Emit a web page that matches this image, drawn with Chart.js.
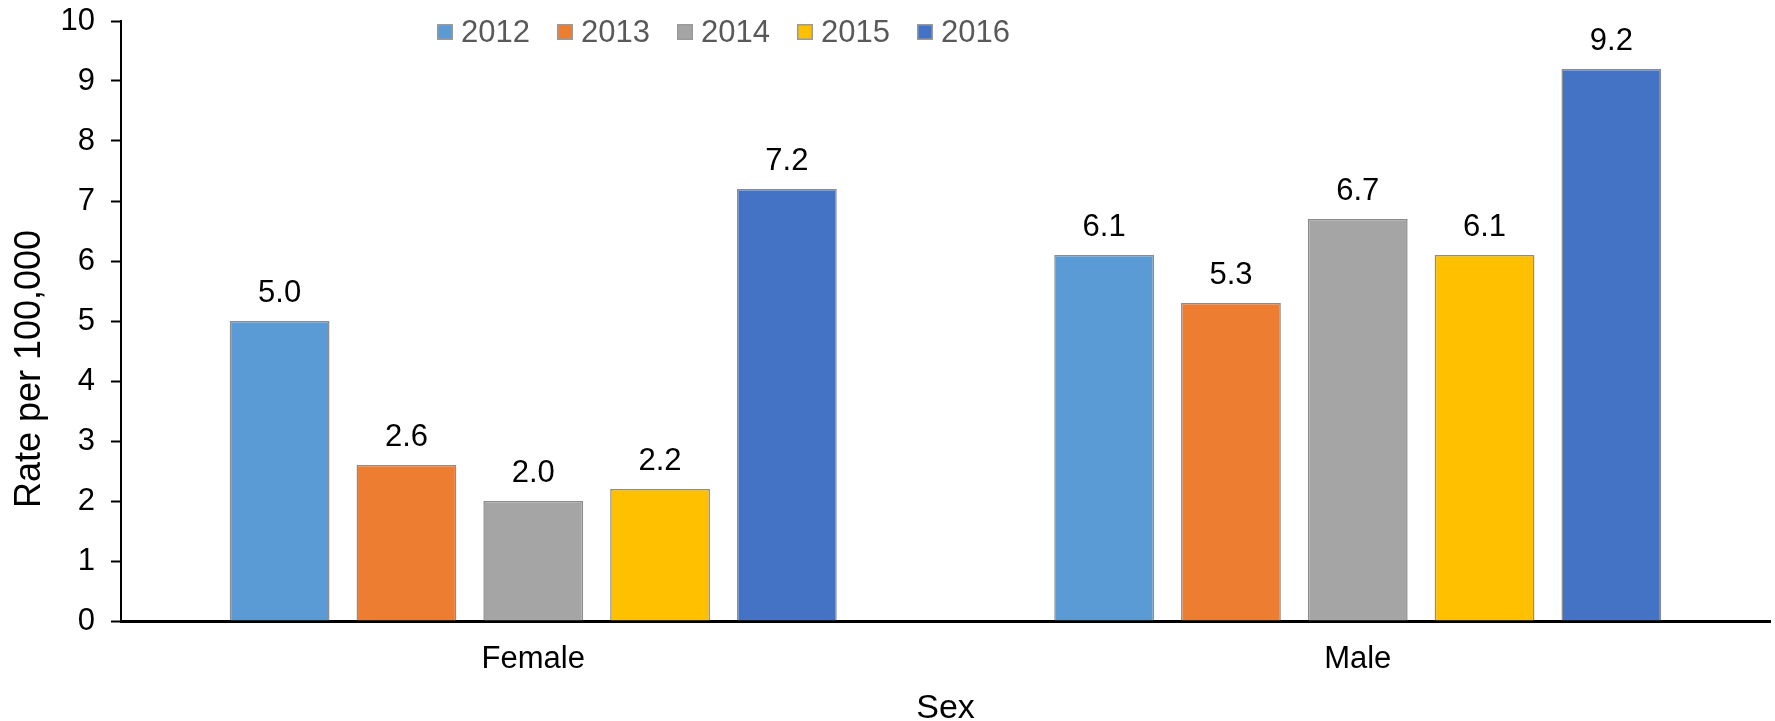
<!DOCTYPE html>
<html>
<head>
<meta charset="utf-8">
<script src="https://cdn.jsdelivr.net/npm/chart.js@4.4.1/dist/chart.umd.min.js"></script>
<style>
  html, body { margin: 0; padding: 0; background: #ffffff; }
  #wrap { width: 1775px; height: 721px; }
</style>
</head>
<body>
<div id="wrap"><canvas id="chart" width="1775" height="721"></canvas></div>
<script>
// Rate per 100,000 by sex and year
const categories = ['Female', 'Male'];
const years = ['2012', '2013', '2014', '2015', '2016'];
const rate2012 = [5.0, 6.1];
const rate2013 = [2.6, 5.3];
const rate2014 = [2.0, 6.7];
const rate2015 = [2.2, 6.1];
const rate2016 = [7.2, 9.2];
const yTickValues = [0, 1, 2, 3, 4, 5, 6, 7, 8, 9, 10];
const yearColors = ['#5B9BD5', '#ED7D31', '#A5A5A5', '#FFC000', '#4472C4'];
const yAxisTitle = 'Rate per 100,000';
const xAxisTitle = 'Sex';

const seriesValues = [rate2012, rate2013, rate2014, rate2015, rate2016];
const FONT = '"Liberation Sans", Arial, Helvetica, sans-serif';
const BAR_EDGE = '#8C8C8C';

// Value printed above every bar
const barValueLabels = {
  id: 'barValueLabels',
  afterDatasetsDraw(chart) {
    const ctx = chart.ctx;
    ctx.save();
    ctx.font = '31px ' + FONT;
    ctx.fillStyle = '#000000';
    ctx.textAlign = 'center';
    ctx.textBaseline = 'alphabetic';
    chart.data.datasets.forEach((ds, i) => {
      const meta = chart.getDatasetMeta(i);
      meta.data.forEach((bar, j) => {
        ctx.fillText(ds.data[j].toFixed(1), bar.x, bar.y - 19);
      });
    });
    ctx.restore();
  }
};

// Horizontal row of year swatches near the top of the plot
const yearLegend = {
  id: 'yearLegend',
  afterDraw(chart) {
    const ctx = chart.ctx;
    const area = chart.chartArea;
    const startX = area.left + 316;
    const boxY = 24;
    const box = 16;
    const pitch = 120;
    ctx.save();
    ctx.font = '31px ' + FONT;
    ctx.textBaseline = 'middle';
    ctx.textAlign = 'left';
    chart.data.datasets.forEach((ds, i) => {
      const x = startX + i * pitch;
      ctx.fillStyle = ds.backgroundColor;
      ctx.fillRect(x, boxY, box, box);
      ctx.strokeStyle = '#9A9A9A';
      ctx.lineWidth = 1.5;
      ctx.strokeRect(x + 0.75, boxY + 0.75, box - 1.5, box - 1.5);
      ctx.fillStyle = '#595959';
      ctx.fillText(ds.label, x + box + 8, boxY + box / 2 + 1);
    });
    ctx.restore();
  }
};

// Rotated y-axis title
const yTitle = {
  id: 'yTitle',
  afterDraw(chart) {
    const ctx = chart.ctx;
    ctx.save();
    ctx.font = '36px ' + FONT;
    ctx.fillStyle = '#000000';
    ctx.textAlign = 'center';
    ctx.textBaseline = 'alphabetic';
    ctx.translate(40, 369);
    ctx.rotate(-Math.PI / 2);
    ctx.fillText(yAxisTitle, 0, 0);
    ctx.restore();
  }
};

new Chart(document.getElementById('chart'), {
  type: 'bar',
  data: {
    labels: categories,
    datasets: years.map((y, i) => ({
      label: y,
      data: seriesValues[i],
      backgroundColor: yearColors[i],
      borderColor: BAR_EDGE,
      borderWidth: 1.5,
      categoryPercentage: 0.769,
      barPercentage: 0.787
    }))
  },
  options: {
    responsive: false,
    animation: false,
    devicePixelRatio: 1,
    layout: { padding: { top: 21, right: 5, left: 0, bottom: 0 } },
    plugins: {
      legend: { display: false },
      tooltip: { enabled: false }
    },
    scales: {
      x: {
        z: 1,
        grid: { display: false, drawTicks: false },
        border: { display: true, color: '#000000', width: 3 },
        ticks: {
          color: '#000000',
          font: { family: FONT, size: 31 },
          padding: 20
        },
        title: {
          display: true,
          text: xAxisTitle,
          color: '#000000',
          font: { family: FONT, size: 34, lineHeight: 0.72 },
          padding: { top: 0, bottom: 0 }
        },
        afterFit(scale) {
          scale.height = 100;
          scale.paddingLeft = 0;
          scale.paddingRight = 0;
        }
      },
      y: {
        min: yTickValues[0],
        max: yTickValues[yTickValues.length - 1],
        afterBuildTicks(scale) {
          scale.ticks = yTickValues.map(v => ({ value: v }));
        },
        grid: {
          display: true,
          drawOnChartArea: false,
          drawTicks: true,
          tickLength: 10,
          tickColor: '#000000',
          tickWidth: 2,
          color: '#000000'
        },
        border: { display: true, color: '#000000', width: 2 },
        ticks: {
          color: '#000000',
          font: { family: FONT, size: 31 },
          padding: 16
        },
        afterFit(scale) {
          scale.width = 121;
          scale.paddingTop = 0;
          scale.paddingBottom = 0;
        }
      }
    }
  },
  plugins: [barValueLabels, yearLegend, yTitle]
});
</script>
</body>
</html>
